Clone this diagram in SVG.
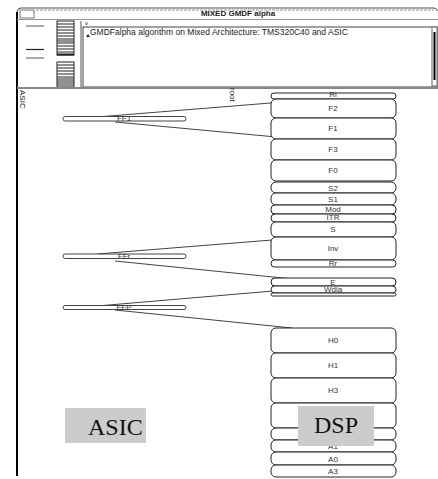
<svg xmlns="http://www.w3.org/2000/svg" width="438" height="479" viewBox="0 0 438 479">
<style>
.ui{font-family:"Liberation Sans",Arial,sans-serif;fill:#222}
.t{font-family:"Liberation Sans",Arial,sans-serif;font-size:8px;fill:#333;text-anchor:middle}
.box{fill:#fff;stroke:#222;stroke-width:1}
.bar{fill:#fff;stroke:#444;stroke-width:1}
.ln{stroke:#444;stroke-width:1;fill:none}
.lab{fill:#cccccc}
.big{font-family:"Liberation Serif","Times New Roman",serif;font-size:24px;fill:#111}
</style>
<rect width="438" height="479" fill="#fff"/>
<g id="window">
<line x1="17" y1="12" x2="17" y2="476" stroke="#000" stroke-width="2"/>
<path d="M17 12 Q17 8 21 8 L434 8 Q437 8 437 11" fill="none" stroke="#555"/>
<line x1="36" y1="10" x2="434" y2="10" stroke="#999" stroke-dasharray="3,1"/>
<rect x="20" y="10" width="14" height="8" fill="none" stroke="#777"/>
<text x="238" y="16" class="ui" font-size="8" font-weight="bold" text-anchor="middle">MIXED GMDF alpha</text>
<line x1="17" y1="19.5" x2="438" y2="19.5" stroke="#999"/>
<line x1="26" y1="26" x2="44" y2="26" stroke="#555"/>
<line x1="26" y1="49.5" x2="44" y2="49.5" stroke="#222" stroke-width="1.2"/>
<line x1="26" y1="58" x2="44" y2="58" stroke="#555"/>
<g stroke="#222">
<rect x="57" y="21" width="17" height="34" fill="#fff"/>
<path d="M57 24H74M57 27H74M57 30H74M57 33H74M57 36H74M57 39H74M57 41H74M57 43H74M57 46H74M57 49H74M57 52H74"/>
<line x1="57" y1="54.5" x2="74" y2="54.5" stroke-width="2"/>
<rect x="57" y="62" width="17" height="25" fill="#fff"/>
<path d="M57 65H74M57 68H74M57 71H74M57 74H74M57 77H74M57 79H74M57 81H74M57 83H74M57 85H74"/>
</g>
<line x1="81" y1="21" x2="81" y2="88" stroke="#555"/>
<rect x="83" y="27" width="354" height="60" fill="#fff" stroke="#444"/>
<text x="85" y="25" class="ui" font-size="6">v</text>
<path d="M86 37 L88 34 L90 37Z" fill="#222"/>
<text x="90" y="35" class="ui" font-size="8.5">GMDFalpha algorithm on Mixed Architecture: TMS320C40 and ASIC</text>
<rect x="432" y="27" width="5" height="59" fill="#fff" stroke="#666"/>
<rect x="433.5" y="32" width="2" height="48" fill="#000"/>
<line x1="17" y1="88" x2="438" y2="88" stroke="#888" stroke-width="2"/>
<text x="0" y="0" class="ui" font-size="8" transform="translate(20 90) rotate(90)">ASIC</text>
<text x="0" y="0" class="ui" font-size="8" transform="translate(230 88) rotate(90)">root</text>
</g>
<g id="connectors">
<line class="ln" x1="97" y1="117" x2="320" y2="99"/>
<line class="ln" x1="115" y1="122" x2="298" y2="139"/>
<line class="ln" x1="97" y1="254" x2="272" y2="240"/>
<line class="ln" x1="115" y1="261" x2="293" y2="279"/>
<line class="ln" x1="97" y1="306" x2="320" y2="287"/>
<line class="ln" x1="115" y1="310" x2="292" y2="328"/>
</g>
<g id="asic1"><rect class="bar" x="63" y="116.5" width="123" height="4.5" rx="2.2"/><text x="124" y="121" class="t" font-size="6">FF1</text></g>
<g id="asic2"><rect class="bar" x="63" y="254" width="123" height="4.5" rx="2.2"/><text x="124" y="258.5" class="t" font-size="6">FFr</text></g>
<g id="asic3"><rect class="bar" x="63" y="305.5" width="123" height="4" rx="2"/><text x="124" y="309.5" class="t" font-size="6">FFP</text></g>
<g id="Ri"><rect class="box" x="271" y="93" width="125" height="6" rx="3"/><text class="t" x="333" y="97">Ri</text></g>
<g id="F2"><rect class="box" x="271" y="99" width="125" height="19" rx="5"/><text class="t" x="333" y="111">F2</text></g>
<g id="F1"><rect class="box" x="271" y="118" width="125" height="21" rx="5"/><text class="t" x="333" y="131">F1</text></g>
<g id="F3"><rect class="box" x="271" y="139" width="125" height="21" rx="5"/><text class="t" x="333" y="152">F3</text></g>
<g id="F0"><rect class="box" x="271" y="160" width="125" height="21" rx="5"/><text class="t" x="333" y="173">F0</text></g>
<g id="S2"><rect class="box" x="271" y="182" width="125" height="11" rx="5"/><text class="t" x="333" y="190.5">S2</text></g>
<g id="S1"><rect class="box" x="271" y="193" width="125" height="12" rx="5"/><text class="t" x="333" y="202">S1</text></g>
<g id="Mod"><rect class="box" x="271" y="205" width="125" height="9" rx="4"/><text class="t" x="333" y="212">Mod</text></g>
<g id="ITR"><rect class="box" x="271" y="214" width="125" height="8" rx="4"/><text class="t" x="333" y="220">ITR</text></g>
<g id="S"><rect class="box" x="271" y="222" width="125" height="15" rx="5"/><text class="t" x="333" y="232">S</text></g>
<g id="Inv"><rect class="box" x="271" y="237" width="125" height="23" rx="5"/><text class="t" x="333" y="251">Inv</text></g>
<g id="Rr"><rect class="box" x="271" y="260" width="125" height="7" rx="3.5"/><text class="t" x="333" y="266">Rr</text></g>
<g id="E"><rect class="box" x="271" y="278" width="125" height="8" rx="4"/><text class="t" x="333" y="284.5">E</text></g>
<g id="Wdia"><rect class="box" x="271" y="286" width="125" height="7" rx="3.5"/><text class="t" x="333" y="292">Wdia</text></g>
<g id="n_thin"><rect class="box" x="271" y="293" width="125" height="3" rx="1.5"/></g>
<g id="H0"><rect class="box" x="271" y="328" width="125" height="25" rx="5"/><text class="t" x="333" y="343">H0</text></g>
<g id="H1"><rect class="box" x="271" y="353" width="125" height="25" rx="5"/><text class="t" x="333" y="368">H1</text></g>
<g id="H3"><rect class="box" x="271" y="378" width="125" height="25" rx="5"/><text class="t" x="333" y="393">H3</text></g>
<g id="n_big"><rect class="box" x="271" y="403" width="125" height="25" rx="5"/></g>
<g id="n_mid"><rect class="box" x="271" y="428" width="125" height="12" rx="5"/></g>
<g id="A1"><rect class="box" x="271" y="440" width="125" height="12" rx="5"/><text class="t" x="333" y="449">A1</text></g>
<g id="A0"><rect class="box" x="271" y="452" width="125" height="13" rx="5"/><text class="t" x="333" y="461.5">A0</text></g>
<g id="A3"><rect class="box" x="271" y="465" width="125" height="12" rx="5"/><text class="t" x="333" y="474">A3</text></g>
<g id="label_asic"><rect class="lab" x="65" y="408" width="81" height="35"/><text class="big" x="88" y="435">ASIC</text></g>
<g id="label_dsp"><rect class="lab" x="298" y="406" width="76" height="40"/><text class="big" x="336" y="433" text-anchor="middle">DSP</text></g>
</svg>
